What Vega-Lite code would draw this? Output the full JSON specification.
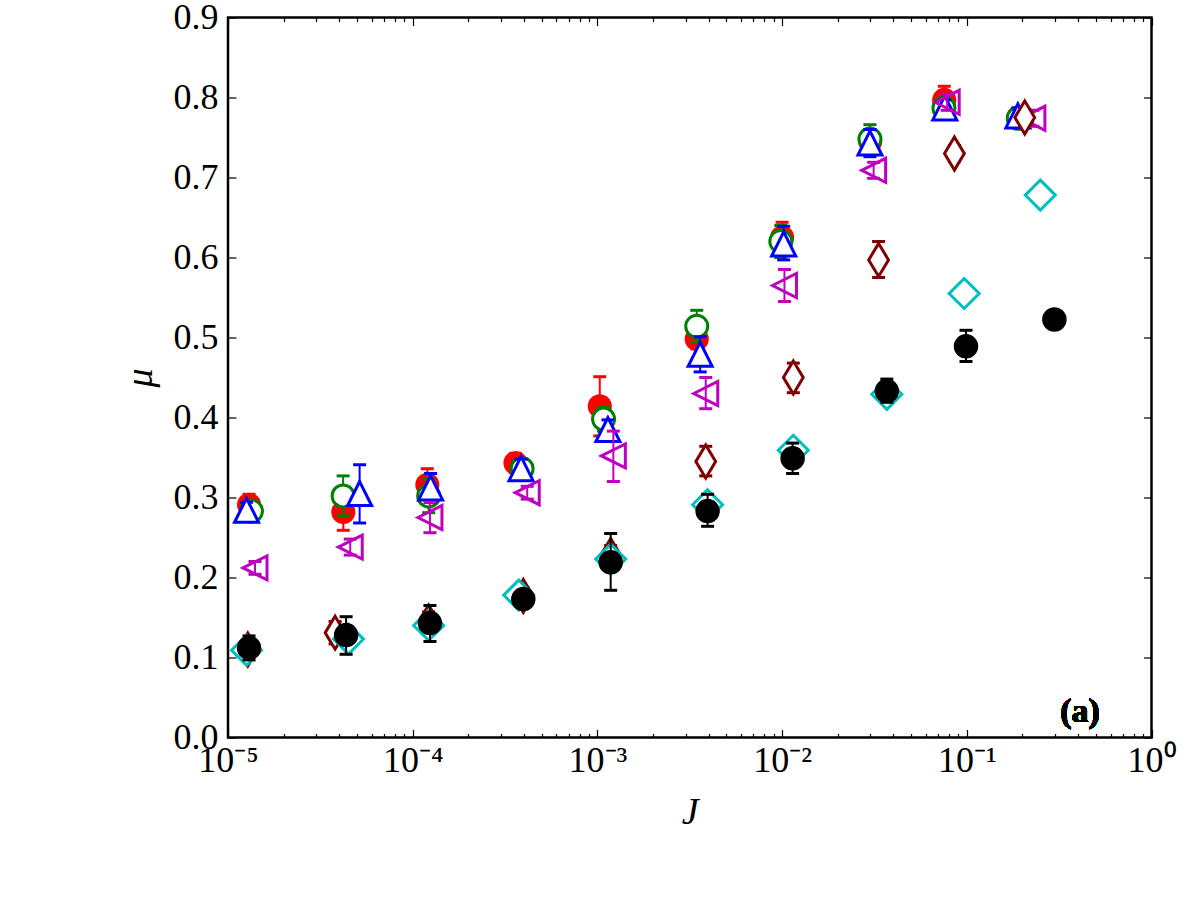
{
  "$schema": "https://vega.github.io/schema/vega-lite/v6.json",
  "width": 923.5,
  "height": 720,
  "autosize": {"type": "none"},
  "padding": {"left": 228, "top": 17.5, "right": 48.5, "bottom": 162.5},
  "background": "white",
  "config": {
    "view": {"stroke": "black", "strokeWidth": 2.5},
    "axis": {
      "domain": false, "grid": false, "tickColor": "black", "tickWidth": 1.2,
      "labelFont": "Liberation Serif", "labelFontSize": 36, "labelColor": "black",
      "titleFont": "Liberation Serif", "titleFontSize": 38, "titleFontStyle": "italic",
      "titleFontWeight": "normal", "titleColor": "black",
      "labelFlush": false, "labelOverlap": false
    }
  },
  "data": {"values": [
    {"s":"r","J":1.30e-5,"mu":0.291,"lo":0.278,"hi":0.304},
    {"s":"r","J":4.21e-5,"mu":0.282,"lo":0.259,"hi":0.305},
    {"s":"r","J":1.20e-4,"mu":0.316,"lo":0.296,"hi":0.336},
    {"s":"r","J":3.60e-4,"mu":0.343,"lo":0.331,"hi":0.355},
    {"s":"r","J":1.03e-3,"mu":0.414,"lo":0.377,"hi":0.451},
    {"s":"r","J":3.45e-3,"mu":0.498,"lo":0.486,"hi":0.510},
    {"s":"r","J":1.00e-2,"mu":0.625,"lo":0.606,"hi":0.644},
    {"s":"r","J":3.00e-2,"mu":0.745,"lo":0.730,"hi":0.760},
    {"s":"r","J":7.55e-2,"mu":0.797,"lo":0.780,"hi":0.814},
    {"s":"r","J":0.190,"mu":0.775,"lo":0.765,"hi":0.785},
    {"s":"g","J":1.34e-5,"mu":0.283,"lo":0.273,"hi":0.293},
    {"s":"g","J":4.20e-5,"mu":0.302,"lo":0.277,"hi":0.327},
    {"s":"g","J":1.22e-4,"mu":0.302,"lo":0.281,"hi":0.323},
    {"s":"g","J":3.91e-4,"mu":0.336,"lo":0.324,"hi":0.348},
    {"s":"g","J":1.08e-3,"mu":0.398,"lo":0.383,"hi":0.413},
    {"s":"g","J":3.45e-3,"mu":0.514,"lo":0.494,"hi":0.534},
    {"s":"g","J":9.84e-3,"mu":0.620,"lo":0.600,"hi":0.640},
    {"s":"g","J":2.99e-2,"mu":0.748,"lo":0.730,"hi":0.766},
    {"s":"g","J":7.52e-2,"mu":0.787,"lo":0.775,"hi":0.799},
    {"s":"g","J":0.190,"mu":0.774,"lo":0.764,"hi":0.784},
    {"s":"b","J":1.26e-5,"mu":0.284,"lo":0.274,"hi":0.294},
    {"s":"b","J":5.16e-5,"mu":0.305,"lo":0.268,"hi":0.341},
    {"s":"b","J":1.25e-4,"mu":0.312,"lo":0.294,"hi":0.330},
    {"s":"b","J":3.86e-4,"mu":0.336,"lo":0.324,"hi":0.348},
    {"s":"b","J":1.14e-3,"mu":0.385,"lo":0.373,"hi":0.397},
    {"s":"b","J":3.60e-3,"mu":0.479,"lo":0.457,"hi":0.501},
    {"s":"b","J":1.02e-2,"mu":0.617,"lo":0.597,"hi":0.639},
    {"s":"b","J":2.99e-2,"mu":0.743,"lo":0.726,"hi":0.760},
    {"s":"b","J":7.60e-2,"mu":0.787,"lo":0.777,"hi":0.797},
    {"s":"b","J":0.189,"mu":0.777,"lo":0.767,"hi":0.787},
    {"s":"m","J":1.40e-5,"mu":0.212,"lo":0.204,"hi":0.220},
    {"s":"m","J":4.59e-5,"mu":0.238,"lo":0.228,"hi":0.248},
    {"s":"m","J":1.24e-4,"mu":0.275,"lo":0.256,"hi":0.294},
    {"s":"m","J":4.17e-4,"mu":0.306,"lo":0.298,"hi":0.314},
    {"s":"m","J":1.22e-3,"mu":0.352,"lo":0.320,"hi":0.383},
    {"s":"m","J":3.86e-3,"mu":0.430,"lo":0.411,"hi":0.450},
    {"s":"m","J":1.03e-2,"mu":0.565,"lo":0.545,"hi":0.585},
    {"s":"m","J":3.13e-2,"mu":0.709,"lo":0.699,"hi":0.719},
    {"s":"m","J":7.83e-2,"mu":0.794,"lo":0.784,"hi":0.804},
    {"s":"m","J":0.228,"mu":0.774,"lo":0.764,"hi":0.784},
    {"s":"d","J":1.28e-5,"mu":0.110,"lo":0.100,"hi":0.120},
    {"s":"d","J":3.80e-5,"mu":0.131,"lo":0.117,"hi":0.145},
    {"s":"d","J":1.22e-4,"mu":0.145,"lo":0.133,"hi":0.157},
    {"s":"d","J":3.97e-4,"mu":0.177,"lo":0.167,"hi":0.187},
    {"s":"d","J":1.18e-3,"mu":0.228,"lo":0.216,"hi":0.240},
    {"s":"d","J":3.86e-3,"mu":0.345,"lo":0.327,"hi":0.364},
    {"s":"d","J":1.15e-2,"mu":0.450,"lo":0.431,"hi":0.468},
    {"s":"d","J":3.33e-2,"mu":0.597,"lo":0.575,"hi":0.620},
    {"s":"d","J":8.57e-2,"mu":0.730,"lo":0.720,"hi":0.740},
    {"s":"d","J":0.206,"mu":0.775,"lo":0.765,"hi":0.785},
    {"s":"c","J":1.26e-5,"mu":0.109,"lo":0.104,"hi":0.114},
    {"s":"c","J":4.49e-5,"mu":0.123,"lo":0.118,"hi":0.128},
    {"s":"c","J":1.22e-4,"mu":0.140,"lo":0.135,"hi":0.145},
    {"s":"c","J":3.75e-4,"mu":0.178,"lo":0.173,"hi":0.183},
    {"s":"c","J":1.18e-3,"mu":0.223,"lo":0.218,"hi":0.228},
    {"s":"c","J":3.95e-3,"mu":0.291,"lo":0.286,"hi":0.296},
    {"s":"c","J":1.15e-2,"mu":0.359,"lo":0.354,"hi":0.364},
    {"s":"c","J":3.69e-2,"mu":0.429,"lo":0.424,"hi":0.434},
    {"s":"c","J":9.68e-2,"mu":0.555,"lo":0.550,"hi":0.560},
    {"s":"c","J":0.250,"mu":0.678,"lo":0.673,"hi":0.683},
    {"s":"k","J":1.30e-5,"mu":0.112,"lo":0.097,"hi":0.127},
    {"s":"k","J":4.36e-5,"mu":0.128,"lo":0.104,"hi":0.151},
    {"s":"k","J":1.24e-4,"mu":0.143,"lo":0.120,"hi":0.165},
    {"s":"k","J":3.97e-4,"mu":0.173,"lo":0.163,"hi":0.183},
    {"s":"k","J":1.18e-3,"mu":0.219,"lo":0.184,"hi":0.255},
    {"s":"k","J":3.95e-3,"mu":0.283,"lo":0.264,"hi":0.304},
    {"s":"k","J":1.14e-2,"mu":0.349,"lo":0.330,"hi":0.368},
    {"s":"k","J":3.69e-2,"mu":0.433,"lo":0.419,"hi":0.448},
    {"s":"k","J":9.90e-2,"mu":0.489,"lo":0.470,"hi":0.509},
    {"s":"k","J":0.298,"mu":0.5225,"lo":0.5175,"hi":0.5275}
  ]},
  "resolve": {"axis": {"x": "independent", "y": "independent"}},
  "layer": [
    {
      "encoding": {
        "x": {"field": "J", "type": "quantitative", "title": "J",
          "scale": {"type": "log", "domain": [0.00001, 1], "nice": false},
          "axis": {"orient": "bottom",
            "values": [0.00001,0.00002,0.00003,0.00004,0.00005,0.00006,0.00007,0.00008,0.00009,0.0001,0.0002,0.0003,0.0004,0.0005,0.0006,0.0007,0.0008,0.0009,0.001,0.002,0.003,0.004,0.005,0.006,0.007,0.008,0.009,0.01,0.02,0.03,0.04,0.05,0.06,0.07,0.08,0.09,0.1,0.2,0.3,0.4,0.5,0.6,0.7,0.8,0.9,1],
            "labelExpr": "abs(log(datum.value)/LN10 - round(log(datum.value)/LN10)) > 0.001 ? '' : round(log(datum.value)/LN10) == -5 ? '10⁻⁵' : round(log(datum.value)/LN10) == -4 ? '10⁻⁴' : round(log(datum.value)/LN10) == -3 ? '10⁻³' : round(log(datum.value)/LN10) == -2 ? '10⁻²' : round(log(datum.value)/LN10) == -1 ? '10⁻¹' : '10⁰'",
            "tickSize": {"condition": {"test": "abs(log(datum.value)/LN10 - round(log(datum.value)/LN10)) < 0.001", "value": -8}, "value": -4},
            "labelPadding": 14, "labelBaseline": "top",
            "titleX": 461.75, "titleY": 75, "titleBaseline": "middle", "titleAlign": "center"}},
        "y": {"field": "mu", "type": "quantitative", "title": "μ",
          "scale": {"domain": [0, 0.9], "nice": false, "zero": false},
          "axis": {"orient": "left", "values": [0,0.1,0.2,0.3,0.4,0.5,0.6,0.7,0.8,0.9], "format": ".1f",
            "tickSize": -8, "labelPadding": 18,
            "titleX": -88, "titleY": 360, "titleAngle": -90, "titleBaseline": "middle", "titleAlign": "center"}}
      },
      "layer": [
        {"transform": [{"filter": "datum.s === 'r'"}], "layer": [
          {"mark": {"type": "rule", "color": "#ff0000", "strokeWidth": 2}, "encoding": {"y": {"field": "lo", "type": "quantitative", "title": "μ"}, "y2": {"field": "hi"}}},
          {"mark": {"type": "tick", "orient": "horizontal", "color": "#ff0000", "size": 13, "thickness": 3, "opacity": 1}, "encoding": {"y": {"field": "lo", "type": "quantitative", "title": "μ"}}},
          {"mark": {"type": "tick", "orient": "horizontal", "color": "#ff0000", "size": 13, "thickness": 3, "opacity": 1}, "encoding": {"y": {"field": "hi", "type": "quantitative", "title": "μ"}}},
          {"mark": {"type": "point", "shape": "circle", "size": 580, "filled": true, "color": "#ff0000", "opacity": 1}}
        ]},
        {"transform": [{"filter": "datum.s === 'g'"}], "layer": [
          {"mark": {"type": "rule", "color": "#008000", "strokeWidth": 2}, "encoding": {"y": {"field": "lo", "type": "quantitative", "title": "μ"}, "y2": {"field": "hi"}}},
          {"mark": {"type": "tick", "orient": "horizontal", "color": "#008000", "size": 13, "thickness": 3, "opacity": 1}, "encoding": {"y": {"field": "lo", "type": "quantitative", "title": "μ"}}},
          {"mark": {"type": "tick", "orient": "horizontal", "color": "#008000", "size": 13, "thickness": 3, "opacity": 1}, "encoding": {"y": {"field": "hi", "type": "quantitative", "title": "μ"}}},
          {"mark": {"type": "point", "shape": "circle", "size": 484, "filled": true, "fill": "white", "stroke": "#008000", "strokeWidth": 3, "opacity": 1}}
        ]},
        {"transform": [{"filter": "datum.s === 'b'"}], "layer": [
          {"mark": {"type": "rule", "color": "#0000ff", "strokeWidth": 2}, "encoding": {"y": {"field": "lo", "type": "quantitative", "title": "μ"}, "y2": {"field": "hi"}}},
          {"mark": {"type": "tick", "orient": "horizontal", "color": "#0000ff", "size": 13, "thickness": 3, "opacity": 1}, "encoding": {"y": {"field": "lo", "type": "quantitative", "title": "μ"}}},
          {"mark": {"type": "tick", "orient": "horizontal", "color": "#0000ff", "size": 13, "thickness": 3, "opacity": 1}, "encoding": {"y": {"field": "hi", "type": "quantitative", "title": "μ"}}},
          {"mark": {"type": "point", "shape": "M0,-1L-1,1L1,1Z", "size": 576, "filled": true, "fill": "white", "stroke": "#0000ff", "strokeWidth": 3, "opacity": 1}}
        ]},
        {"transform": [{"filter": "datum.s === 'm'"}], "layer": [
          {"mark": {"type": "rule", "color": "#bf00bf", "strokeWidth": 2}, "encoding": {"y": {"field": "lo", "type": "quantitative", "title": "μ"}, "y2": {"field": "hi"}}},
          {"mark": {"type": "tick", "orient": "horizontal", "color": "#bf00bf", "size": 13, "thickness": 3, "opacity": 1}, "encoding": {"y": {"field": "lo", "type": "quantitative", "title": "μ"}}},
          {"mark": {"type": "tick", "orient": "horizontal", "color": "#bf00bf", "size": 13, "thickness": 3, "opacity": 1}, "encoding": {"y": {"field": "hi", "type": "quantitative", "title": "μ"}}},
          {"mark": {"type": "point", "shape": "M-1,0L1,-1L1,1Z", "size": 576, "filled": false, "color": "#bf00bf", "strokeWidth": 3, "opacity": 1}}
        ]},
        {"transform": [{"filter": "datum.s === 'd'"}], "layer": [
          {"mark": {"type": "rule", "color": "#800000", "strokeWidth": 2}, "encoding": {"y": {"field": "lo", "type": "quantitative", "title": "μ"}, "y2": {"field": "hi"}}},
          {"mark": {"type": "tick", "orient": "horizontal", "color": "#800000", "size": 13, "thickness": 3, "opacity": 1}, "encoding": {"y": {"field": "lo", "type": "quantitative", "title": "μ"}}},
          {"mark": {"type": "tick", "orient": "horizontal", "color": "#800000", "size": 13, "thickness": 3, "opacity": 1}, "encoding": {"y": {"field": "hi", "type": "quantitative", "title": "μ"}}},
          {"mark": {"type": "point", "shape": "M0,-1L0.6,0L0,1L-0.6,0Z", "size": 1089, "filled": true, "fill": "white", "stroke": "#800000", "strokeWidth": 3, "opacity": 1}}
        ]},
        {"transform": [{"filter": "datum.s === 'c'"}], "layer": [
          {"mark": {"type": "rule", "color": "#00bfbf", "strokeWidth": 2}, "encoding": {"y": {"field": "lo", "type": "quantitative", "title": "μ"}, "y2": {"field": "hi"}}},
          {"mark": {"type": "tick", "orient": "horizontal", "color": "#00bfbf", "size": 13, "thickness": 3, "opacity": 1}, "encoding": {"y": {"field": "lo", "type": "quantitative", "title": "μ"}}},
          {"mark": {"type": "tick", "orient": "horizontal", "color": "#00bfbf", "size": 13, "thickness": 3, "opacity": 1}, "encoding": {"y": {"field": "hi", "type": "quantitative", "title": "μ"}}},
          {"mark": {"type": "point", "shape": "M0,-1L1,0L0,1L-1,0Z", "size": 900, "filled": true, "fill": "white", "stroke": "#00bfbf", "strokeWidth": 3, "opacity": 1}}
        ]},
        {"transform": [{"filter": "datum.s === 'k'"}], "layer": [
          {"mark": {"type": "rule", "color": "#000000", "strokeWidth": 2}, "encoding": {"y": {"field": "lo", "type": "quantitative", "title": "μ"}, "y2": {"field": "hi"}}},
          {"mark": {"type": "tick", "orient": "horizontal", "color": "#000000", "size": 13, "thickness": 3, "opacity": 1}, "encoding": {"y": {"field": "lo", "type": "quantitative", "title": "μ"}}},
          {"mark": {"type": "tick", "orient": "horizontal", "color": "#000000", "size": 13, "thickness": 3, "opacity": 1}, "encoding": {"y": {"field": "hi", "type": "quantitative", "title": "μ"}}},
          {"mark": {"type": "point", "shape": "circle", "size": 600, "filled": true, "color": "#000000", "opacity": 1}}
        ]},
        {"mark": {"type": "text", "text": "(a)", "font": "Liberation Serif", "fontSize": 34, "fontWeight": "bold", "align": "center", "baseline": "middle", "color": "black"},
         "encoding": {"x": {"datum": 0.41, "type": "quantitative", "title": "J"}, "y": {"datum": 0.032, "type": "quantitative", "title": "μ"}}}
      ]
    },
    {
      "mark": {"type": "point", "opacity": 0},
      "encoding": {
        "x": {"field": "J", "type": "quantitative", "title": null,
          "scale": {"type": "log", "domain": [0.00001, 1], "nice": false},
          "axis": {"orient": "top", "labels": false, "title": null,
            "values": [0.00001,0.00002,0.00003,0.00004,0.00005,0.00006,0.00007,0.00008,0.00009,0.0001,0.0002,0.0003,0.0004,0.0005,0.0006,0.0007,0.0008,0.0009,0.001,0.002,0.003,0.004,0.005,0.006,0.007,0.008,0.009,0.01,0.02,0.03,0.04,0.05,0.06,0.07,0.08,0.09,0.1,0.2,0.3,0.4,0.5,0.6,0.7,0.8,0.9,1],
            "tickSize": {"condition": {"test": "abs(log(datum.value)/LN10 - round(log(datum.value)/LN10)) < 0.001", "value": -8}, "value": -4}}},
        "y": {"field": "mu", "type": "quantitative", "title": null,
          "scale": {"domain": [0, 0.9], "nice": false, "zero": false},
          "axis": {"orient": "right", "labels": false, "title": null, "values": [0,0.1,0.2,0.3,0.4,0.5,0.6,0.7,0.8,0.9], "tickSize": -8}}
      }
    }
  ]
}
